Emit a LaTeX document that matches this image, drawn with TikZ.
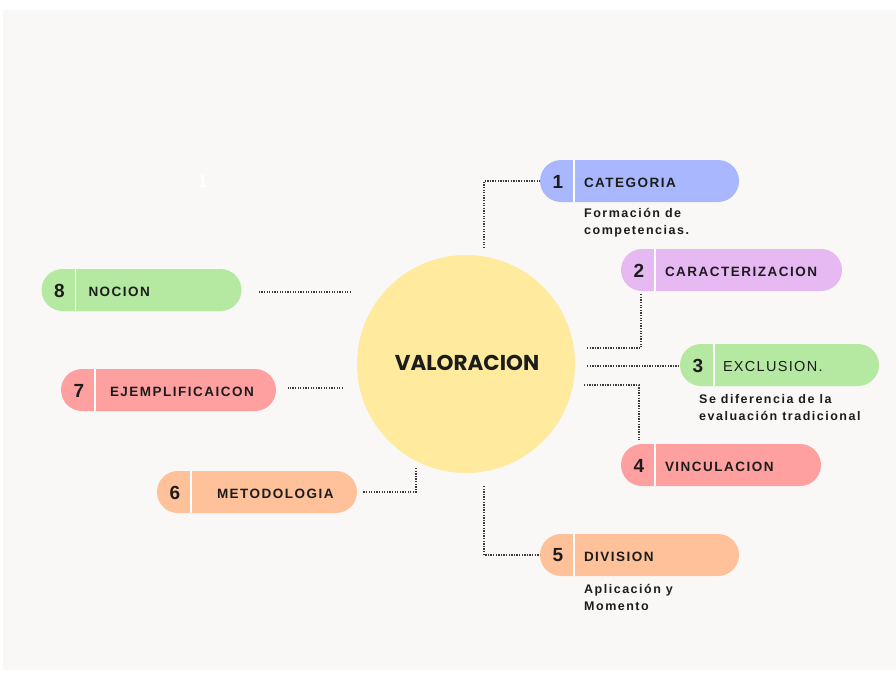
\documentclass[tikz,border=0pt]{standalone}
\usepackage{fontspec}
\setmainfont{Liberation Sans}
\newfontfamily\trackfam[LetterSpace=11]{Liberation Sans}
\newfontfamily\subfam[LetterSpace=12]{Liberation Sans}
\newfontfamily\plainfam[LetterSpace=9]{Liberation Sans}
\newfontfamily\titlefam{Poppins}

\definecolor{paper}{HTML}{F9F8F6}
\definecolor{ink}{HTML}{1C1C1C}
\definecolor{dotc}{HTML}{3A3A3A}
\definecolor{sun}{HTML}{FFEA9E}
\definecolor{pblue}{HTML}{A9B8FE}
\definecolor{ppurple}{HTML}{E6B9F2}
\definecolor{pgreen}{HTML}{B5E8A0}
\definecolor{pred}{HTML}{FFA0A0}
\definecolor{porange}{HTML}{FFC199}

\tikzset{
  pill/.style={rectangle, rounded corners=21pt, minimum height=42pt, inner sep=0pt, draw=none},
  numtxt/.style={text=ink, font=\bfseries\fontsize{19}{20}\selectfont, inner sep=0pt},
  lbl/.style={text=ink, anchor=west, inner sep=0pt, font=\trackfam\bfseries\fontsize{13.5}{15}\selectfont},
  lblplain/.style={text=ink, anchor=west, inner sep=0pt, font=\plainfam\fontsize{14.5}{15}\selectfont},
  subtxt/.style={text=ink, anchor=north west, align=left, inner sep=0pt,
    font=\subfam\bfseries\fontsize{12.5}{17.5}\selectfont},
  dotline/.style={draw=dotc, line width=1.6pt, dash pattern=on 1.3pt off 1.3pt},
  divider/.style={draw=white, line width=1.6pt}
}

% one pill: name, centre, width, colour, number, label style, label offset, label text
\newcommand\mkpill[8]{%
  \node[pill, fill=#4, minimum width=#3] (#1) at #2 {};
  \draw[divider] ([xshift=34pt]#1.north west) -- ([xshift=34pt]#1.south west);
  \node[numtxt] (#1num) at ([xshift=18pt,yshift=-0.5pt]#1.west) {#5};
  \node[#6] (#1lbl) at ([xshift=#7,yshift=-1.5pt]#1.west) {#8};
}

\begin{document}
\begin{tikzpicture}[x=1pt,y=-1pt]
\useasboundingbox (0,0) rectangle (896,677);
\fill[paper] (3,10) rectangle (896,670);

\node[text=white, font=\fontsize{18}{20}\selectfont] (faint) at (203,181) {1};

% centre
\node[circle, fill=sun, minimum size=218pt, inner sep=0pt] (hub) at (466,364) {};
\node[text=ink, font=\titlefam\bfseries\fontsize{21.5}{22}\selectfont] (hubtxt) at (467,363) {VALORACION};

% branches
\mkpill{p1}{(639.5,181)}{199pt}{pblue}{1}{lbl}{44pt}{CATEGORIA}
\mkpill{p2}{(731.5,270)}{221pt}{ppurple}{2}{lbl}{44pt}{CARACTERIZACION}
\mkpill{p3}{(779.5,365)}{199pt}{pgreen}{3}{lblplain}{43pt}{EXCLUSION.}
\mkpill{p4}{(721,465)}{200pt}{pred}{4}{lbl}{44pt}{VINCULACION}
\mkpill{p5}{(639.5,555)}{199pt}{porange}{5}{lbl}{44pt}{DIVISION}
\mkpill{p6}{(257,492)}{200pt}{porange}{6}{lbl}{60pt}{METODOLOGIA}
\mkpill{p7}{(168.5,390)}{215pt}{pred}{7}{lbl}{49pt}{EJEMPLIFICAICON}
\mkpill{p8}{(141.5,290)}{200pt}{pgreen}{8}{lbl}{47pt}{NOCION}

% notes under pills
\node[subtxt] (n1) at (584,208) {Formación de\\competencias.};
\node[subtxt] (n3) at (699,394) {Se diferencia de la\\evaluación tradicional};
\node[subtxt] (n5) at (584,584) {Aplicación y\\Momento};

% connector ends near the hub
\coordinate (e1) at (484,248);
\coordinate (e2) at (587,348);
\coordinate (e3) at (587,366);
\coordinate (e4) at (584,385);
\coordinate (e5) at (484,486);
\coordinate (e6) at (416,468);
\coordinate (e7) at (343,388);
\coordinate (e8) at (351,292);

\draw[dotline] (e1) |- (p1.west);
\draw[dotline] (e2) -| ([yshift=-3pt]p2.south west -| 641,0);
\draw[dotline] (e3) -- (e3 -| p3.west);
\draw[dotline] (e4) -| ([yshift=4pt]p4.north west -| 639,0);
\draw[dotline] (e5) |- (p5.west);
\draw[dotline] (e6) |- ([xshift=6pt]p6.east);
\draw[dotline] (e7) -- ([xshift=12pt]e7 -| p7.east);
\draw[dotline] (e8) -- ([xshift=16pt]e8 -| p8.east);
\end{tikzpicture}
\end{document}
